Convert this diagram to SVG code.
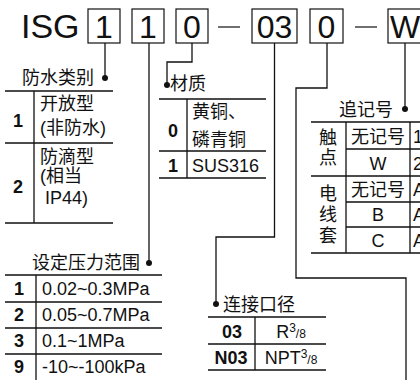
<svg xmlns="http://www.w3.org/2000/svg" width="420" height="380" viewBox="0 0 420 380">
<style>
text{font-family:"Liberation Sans","Noto Sans CJK SC",sans-serif;font-size:18px;fill:#111}
.h{font-size:32px}
.b{font-weight:bold}
.m{text-anchor:middle}
.ln{stroke:#111;stroke-width:1.3;fill:none}
.bx{stroke:#111;stroke-width:1.2;fill:none}
.dot{fill:#111}
.s{font-size:12px}
</style>
<g id="header">
<text class="h" x="21" y="38" style="font-size:34px">ISG</text>
<rect class="bx" x="88" y="9" width="32" height="34"/><text class="h m" x="104" y="38">1</text>
<rect class="bx" x="132" y="9" width="32" height="34"/><text class="h m" x="148" y="38">1</text>
<rect class="bx" x="176" y="9" width="32" height="34"/><text class="h m" x="192" y="38">0</text>
<line class="bx" x1="218" y1="27" x2="240" y2="27"/>
<rect class="bx" x="252" y="9" width="45" height="34"/><text class="h m" x="274.5" y="38">03</text>
<rect class="bx" x="310" y="9" width="33" height="34"/><text class="h m" x="326.5" y="38">0</text>
<line class="bx" x1="355" y1="27" x2="377" y2="27"/>
<rect class="bx" x="388" y="9" width="40" height="34"/><text class="h m" x="405" y="38">W</text>
</g>
<g id="connectors">
<path class="ln" d="M105,43V78"/><circle class="dot" cx="105" cy="78" r="3"/>
<path class="ln" d="M149,43V263"/><circle class="dot" cx="149" cy="263" r="3"/>
<path class="ln" d="M192,43V62H167V85"/><circle class="dot" cx="167" cy="85" r="3"/>
<path class="ln" d="M274.5,43V237H216V304"/><circle class="dot" cx="216" cy="304" r="3"/>
<path class="ln" d="M327,43V88H296V278H406V380"/>
<path class="ln" d="M405,43V109"/><circle class="dot" cx="405" cy="109" r="3"/>
</g>
<g id="waterproof">
<text x="22" y="84">防水类别</text>
<path class="ln" d="M5,91H113M34,91V223M5,143H113M5,223H113"/>
<text class="b m" x="18" y="127">1</text>
<text x="40" y="110">开放型</text>
<text x="40" y="134">(非防水)</text>
<text class="b m" x="18" y="193">2</text>
<text x="40" y="163">防滴型</text>
<text x="40" y="182">(相当</text>
<text x="45" y="204">IP44)</text>
</g>
<g id="material">
<text x="170" y="90">材质</text>
<path class="ln" d="M159,99H266M187,99V178M159,151H266M159,178H266"/>
<text class="b m" x="173" y="137">0</text>
<text x="192" y="118">黄铜、</text>
<text x="192" y="146">磷青铜</text>
<text class="b m" x="173" y="172">1</text>
<text x="192" y="172">SUS316</text>
</g>
<g id="pressure">
<text x="32" y="269">设定压力范围</text>
<path class="ln" d="M5,275H162M36,275V380M5,302H162M5,328H162M5,354H162"/>
<text class="b m" x="19" y="295">1</text><text x="42" y="295">0.02~0.3MPa</text>
<text class="b m" x="19" y="321">2</text><text x="42" y="321">0.05~0.7MPa</text>
<text class="b m" x="19" y="347">3</text><text x="42" y="347">0.1~1MPa</text>
<text class="b m" x="19" y="373">9</text><text x="42" y="373">-10~-100kPa</text>
</g>
<g id="port">
<text x="223" y="311">连接口径</text>
<path class="ln" d="M208,317H326M255,317V370M208,344H326M208,370H326"/>
<text class="b m" x="232" y="338">03</text>
<text class="m" x="291" y="338">R<tspan class="s" dy="-6">3</tspan><tspan class="s" dy="6">/8</tspan></text>
<text class="b m" x="231" y="364">N03</text>
<text class="m" x="291" y="364">NPT<tspan class="s" dy="-6">3</tspan><tspan class="s" dy="6">/8</tspan></text>
</g>
<g id="suffix">
<text x="339" y="116">追记号</text>
<path class="ln" d="M311,122H420M346,122V253M410,122V253M346,149H420M311,176H420M346,202H420M346,227H420M311,253H420"/>
<text class="m" x="328" y="144">触</text>
<text class="m" x="328" y="164">点</text>
<text class="m" x="328" y="200">电</text>
<text class="m" x="328" y="221">线</text>
<text class="m" x="328" y="242">套</text>
<text class="m" x="378" y="143">无记号</text>
<text class="m" x="378" y="170">W</text>
<text class="m" x="378" y="196">无记号</text>
<text class="m" x="378" y="221">B</text>
<text class="m" x="378" y="247">C</text>
<text x="413" y="143">1</text>
<text x="413" y="170">2</text>
<text x="413" y="196">A</text>
<text x="413" y="221">A</text>
<text x="413" y="247">A</text>
</g>
</svg>
